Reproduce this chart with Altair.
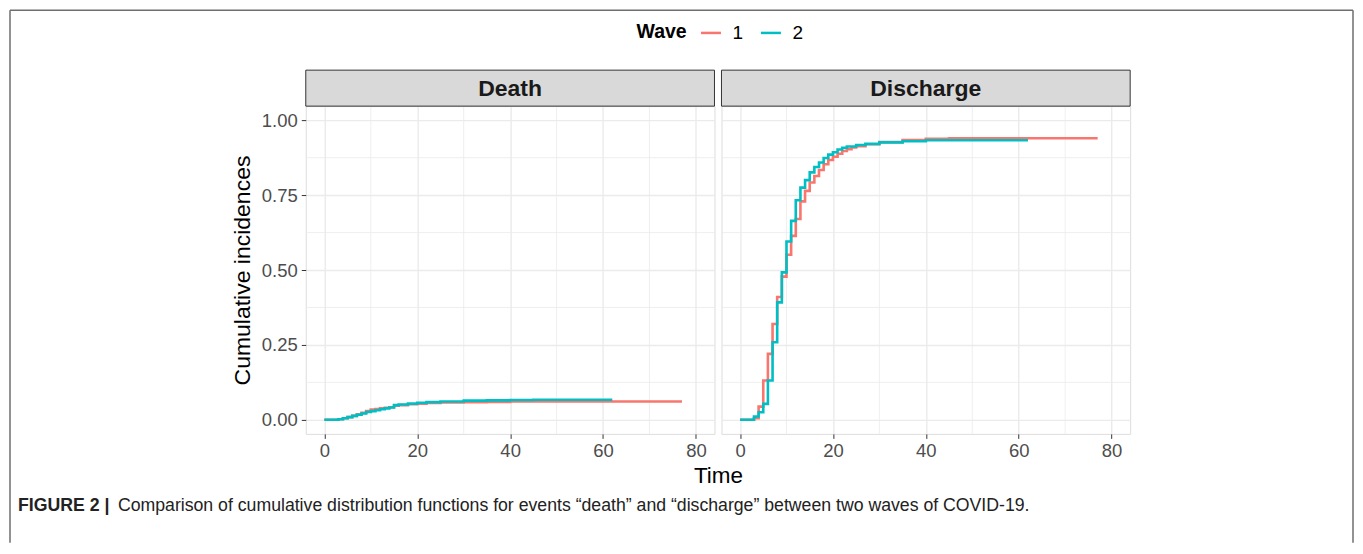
import altair as alt
import pandas as pd

# ---------------- data ----------------
death_w1_time = [0, 3, 4, 5, 6, 7, 8, 9, 10, 11, 12, 13, 14, 15, 16, 18, 20, 22, 25, 30, 35, 40, 77]
death_w1_cif = [0, 0.002, 0.005, 0.009, 0.013, 0.018, 0.023, 0.029, 0.034, 0.036, 0.038, 0.040,
                0.042, 0.047, 0.049, 0.052, 0.054, 0.056, 0.058, 0.059, 0.060, 0.061, 0.061]
death_w2_time = [0, 3, 4, 5, 6, 7, 8, 9, 10, 11, 12, 13, 14, 15, 16, 18, 20, 22, 25, 30, 35, 40, 45, 62]
death_w2_cif = [0, 0.002, 0.005, 0.009, 0.013, 0.017, 0.021, 0.026, 0.029, 0.032, 0.035, 0.038,
                0.041, 0.049, 0.051, 0.054, 0.057, 0.059, 0.061, 0.064, 0.065, 0.066, 0.067, 0.067]

disch_w1_time = [0, 3, 4, 5, 6, 7, 8, 9, 10, 11, 12, 13, 14, 15, 16, 17, 18, 19, 20, 21, 22, 23,
                 24, 25, 27, 30, 35, 40, 45, 77]
disch_w1_cif = [0, 0.005, 0.044, 0.131, 0.22, 0.32, 0.41, 0.478, 0.551, 0.614, 0.67, 0.729, 0.764,
                0.792, 0.814, 0.834, 0.853, 0.867, 0.878, 0.888, 0.897, 0.903, 0.909, 0.913, 0.92,
                0.927, 0.934, 0.938, 0.94, 0.94]
disch_w2_time = [0, 3, 4, 5, 6, 7, 8, 9, 10, 11, 12, 13, 14, 15, 16, 17, 18, 19, 20, 21, 22, 23,
                 25, 27, 30, 35, 40, 62]
disch_w2_cif = [0, 0.011, 0.025, 0.053, 0.131, 0.259, 0.392, 0.492, 0.595, 0.664, 0.733, 0.775,
                0.80, 0.826, 0.844, 0.859, 0.874, 0.885, 0.893, 0.902, 0.908, 0.912, 0.917, 0.921,
                0.926, 0.930, 0.933, 0.933]

events = ["Death", "Discharge"]
waves = ["1", "2"]
wave_colors = ["#F8766D", "#00BFC4"]

x_major = [0, 20, 40, 60, 80]
x_minor = [10, 30, 50, 70]
y_major = [0, 0.25, 0.5, 0.75, 1.0]
y_minor = [0.125, 0.375, 0.625, 0.875]

caption_bold = "FIGURE 2 |"
caption_rest = "Comparison of cumulative distribution functions for events \u201cdeath\u201d and \u201cdischarge\u201d between two waves of COVID-19."

# ---------------- build table ----------------
rows = []
for ev, w, ts, vs in [
    ("Death", "1", death_w1_time, death_w1_cif),
    ("Death", "2", death_w2_time, death_w2_cif),
    ("Discharge", "1", disch_w1_time, disch_w1_cif),
    ("Discharge", "2", disch_w2_time, disch_w2_cif),
]:
    for t, v in zip(ts, vs):
        rows.append({"event": ev, "wave": w, "time": t, "cif": v})
df = pd.DataFrame(rows)

FONT = "Liberation Sans"
W, H = 409, 328
FX, FY = -296, -96  # frame offset relative to left panel

x_scale = alt.Scale(domain=[-4, 84], nice=False, zero=False)
y_scale = alt.Scale(domain=[-0.047, 1.047], nice=False, zero=False)

color_enc = alt.Color(
    "wave:N",
    scale=alt.Scale(domain=waves, range=wave_colors),
    legend=alt.Legend(
        orient="none", legendX=331, legendY=-85, direction="horizontal",
        title="Wave", titleOrient="left", titleFontSize=19.5, titleFontWeight="bold",
        titleColor="#000000", titleFont=FONT, titlePadding=12, titleBaseline="middle",
        labelFontSize=19, labelColor="#000000", labelFont=FONT, labelOffset=10,
        symbolType="stroke", symbolStrokeWidth=2.5, symbolSize=400, columnPadding=12,
    ),
)


def x_axis(show_title):
    kw = dict(values=x_major, grid=True, gridColor="#EBEBEB", gridWidth=1.4, domain=False,
              ticks=True, tickSize=4.5, tickColor="#333333", tickWidth=1,
              labelFontSize=18.5, labelColor="#4D4D4D", labelFont=FONT, labelPadding=3,
              labelFlush=False)
    if show_title:
        return alt.Axis(title="Time", titleFontSize=22.5, titleFontWeight="normal",
                        titleColor="#000000", titleFont=FONT, titleX=412.5, titleAnchor="start",
                        titleAlign="center", titlePadding=5, **kw)
    return alt.Axis(title=None, **kw)


def y_axis(show):
    if show:
        return alt.Axis(values=y_major, format=".2f", grid=True, gridColor="#EBEBEB", gridWidth=1.4,
                        domain=False, tickSize=4.5, tickColor="#333333", tickWidth=1,
                        labelFontSize=18.5, labelColor="#4D4D4D", labelFont=FONT, labelPadding=4,
                        title="Cumulative incidences", titleFontSize=23, titleFontWeight="normal",
                        titleColor="#000000", titleFont=FONT, titlePadding=7, labelFlush=False)
    return alt.Axis(values=y_major, grid=True, gridColor="#EBEBEB", gridWidth=1.4, domain=False,
                    ticks=False, labels=False, title=None)


def panel(event, left):
    xa = x_axis(left)
    ya = y_axis(left)
    sub = df[df["event"] == event]
    minor_x = alt.Chart(pd.DataFrame({"v": x_minor})).mark_rule(
        color="#EBEBEB", strokeWidth=0.8).encode(x=alt.X("v:Q", scale=x_scale, axis=xa))
    minor_y = alt.Chart(pd.DataFrame({"v": y_minor})).mark_rule(
        color="#EBEBEB", strokeWidth=0.8).encode(y=alt.Y("v:Q", scale=y_scale, axis=ya))
    lines = alt.Chart(sub).mark_line(interpolate="step-after", strokeWidth=2.6).encode(
        x=alt.X("time:Q", scale=x_scale, axis=xa),
        y=alt.Y("cif:Q", scale=y_scale, axis=ya),
        color=color_enc,
        order=alt.Order("time:Q"),
    )
    strip_df = pd.DataFrame({"label": [event]})
    strip_rect = alt.Chart(strip_df).mark_rect(
        fill="#D9D9D9", stroke="#333333", strokeWidth=1).encode(
        x=alt.value(0), x2=alt.value(W), y=alt.value(-36), y2=alt.value(0))
    strip_text = alt.Chart(strip_df).mark_text(
        fontSize=23, fontWeight="bold", color="#1A1A1A", font=FONT, baseline="middle",
        align="center").encode(x=alt.value(W / 2), y=alt.value(-17.5), text="label:N")
    layers = [minor_x, minor_y, lines, strip_rect, strip_text]
    if left:
        frame_color = "#6E6E6E"
        right_x = FX + 1344
        bottom_y = FY + 533
        fl = alt.Chart(strip_df).mark_rule(color=frame_color, strokeWidth=1.5).encode(
            x=alt.value(FX), y=alt.value(FY), y2=alt.value(bottom_y))
        ft = alt.Chart(strip_df).mark_rule(color=frame_color, strokeWidth=1.5).encode(
            x=alt.value(FX), x2=alt.value(right_x), y=alt.value(FY))
        fr = alt.Chart(strip_df).mark_rule(color=frame_color, strokeWidth=1.5).encode(
            x=alt.value(right_x), y=alt.value(FY), y2=alt.value(bottom_y))
        cap_df = pd.DataFrame({"b": [caption_bold], "r": [caption_rest]})
        cap1 = alt.Chart(cap_df).mark_text(
            fontSize=17.7, fontWeight="bold", color="#222222", font=FONT, align="left",
            baseline="middle").encode(x=alt.value(-288), y=alt.value(400), text="b:N")
        cap2 = alt.Chart(cap_df).mark_text(
            fontSize=17.7, color="#222222", font=FONT, align="left",
            baseline="middle").encode(x=alt.value(-188), y=alt.value(400), text="r:N")
        layers += [fl, ft, fr, cap1, cap2]
    return alt.layer(*layers).properties(width=W, height=H)


chart = alt.hconcat(panel("Death", True), panel("Discharge", False), spacing=7, bounds="flush")
chart = chart.properties(padding=0).configure_view(stroke="#333333", strokeWidth=1).configure(
    font=FONT)

chart.save("out.html", embed_options={"renderer": "svg", "actions": False})
